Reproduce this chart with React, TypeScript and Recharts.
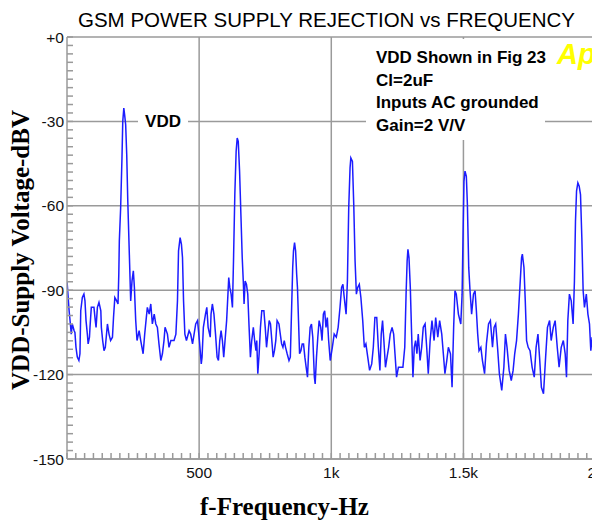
import React from "react";
import { LineChart, Line, XAxis, YAxis, CartesianGrid } from "recharts";

// trace: frequency (Hz) and level (dBV)
const freqHz = [
  0, 8, 14, 16, 20, 27, 30, 34, 39, 45, 49, 52, 58, 64, 68, 72, 77, 80, 85, 87,
  92, 102, 107, 110, 115, 121, 128, 130, 135, 140, 145, 153, 159, 165, 172, 176, 181, 188, 193, 196,
  198, 203, 208, 211, 215, 218, 222, 226, 230, 237, 241, 246, 251, 255, 260, 265, 273, 279, 288, 294,
  299, 304, 311, 317, 323, 330, 336, 342, 348, 355, 361, 367, 371, 380, 386, 393, 405, 412, 418, 422,
  428, 433, 437, 441, 446, 452, 462, 468, 475, 487, 494,
  501, 508, 511, 516, 524, 529, 534, 542, 545, 550, 556, 562, 568, 573, 578, 583, 588, 593, 598, 604,
  609, 612, 616, 621, 626, 630, 635, 640, 644, 648, 653, 658, 663, 667, 670, 674, 679, 684, 689, 694,
  699, 705, 710, 715, 718, 722, 727, 732, 737, 745, 750, 755, 760, 765, 770, 775, 780, 785, 790, 795,
  802, 807, 812, 817, 822, 827, 833, 840, 845, 850, 854, 857, 861, 865, 869, 872, 876, 880, 885, 890,
  895, 900, 905, 910, 915, 920, 925, 930, 936, 939, 944, 949, 954, 960, 965, 970, 975, 980, 985, 990,
  996, 1004, 1011, 1019, 1026, 1033, 1039, 1044, 1049, 1056, 1061, 1066, 1071, 1074, 1080, 1085, 1090, 1095, 1100, 1106,
  1112, 1119, 1125, 1131, 1138, 1145, 1153, 1159, 1165, 1172, 1178, 1184, 1189, 1194, 1199, 1205, 1211, 1217, 1223, 1230,
  1236, 1241, 1247, 1254, 1263, 1271, 1278, 1283, 1287, 1290, 1294, 1299, 1304, 1309, 1314, 1319, 1324, 1329, 1336, 1342,
  1348, 1355, 1361, 1367, 1374, 1381, 1389, 1395, 1403, 1410, 1418, 1424, 1430, 1437, 1443, 1451, 1457, 1463, 1468, 1473,
  1481, 1490,
  1495, 1499, 1502, 1506, 1511, 1515, 1520, 1525, 1531, 1538, 1544, 1549, 1554, 1559, 1566, 1572, 1580, 1587, 1595, 1602,
  1610, 1616, 1622, 1629, 1636, 1645, 1653, 1659, 1665, 1673, 1681, 1688, 1694, 1701, 1708, 1715, 1720, 1723, 1729, 1734,
  1739, 1745, 1752, 1760, 1768, 1775, 1782, 1788, 1795, 1803, 1811, 1818, 1826, 1832, 1840, 1847, 1855, 1862, 1870, 1878,
  1885, 1890, 1895, 1901, 1908, 1915, 1920, 1924, 1928, 1933, 1938, 1943, 1948, 1953, 1958, 1965, 1971, 1977, 1982, 1987,
];

const levelDbv = [
  -86.7, -97.3, -103.2, -105.6, -102.0, -104.4, -105.0, -110.3, -113.8, -115.0, -112.6, -97.3, -92.6, -91.4, -93.8, -100.8, -105.6, -109.1, -106.7, -103.2,
  -96.1, -96.1, -100.8, -103.2, -96.1, -94.3, -97.3, -103.2, -107.9, -111.5, -110.3, -102.0, -105.6, -107.9, -106.7, -99.7, -92.6, -93.8, -94.9, -84.3,
  -72.5, -60.7, -43.0, -30.0, -25.3, -27.6, -31.2, -41.8, -58.3, -80.8, -93.8, -86.7, -83.1, -89.0, -100.8, -107.9, -104.4, -107.9, -112.6, -105.6,
  -100.8, -96.1, -98.5, -94.9, -102.0, -98.5, -102.0, -103.2, -109.1, -115.0, -112.6, -107.9, -103.2, -105.6, -110.3, -107.9, -107.9, -105.6, -93.8, -76.0,
  -71.3, -73.7, -78.4, -93.8, -105.6, -107.9, -104.4, -105.6, -109.1, -102.0, -100.8,
  -107.9, -116.2, -113.8, -103.2, -98.5, -96.1, -103.2, -106.7, -98.5, -94.9, -98.5, -105.6, -113.8, -115.0, -107.9, -104.4, -107.9, -113.8, -107.9, -100.8,
  -91.4, -85.5, -89.0, -91.4, -96.1, -79.6, -56.0, -40.6, -35.9, -37.1, -47.7, -63.1, -78.4, -86.7, -94.9, -86.7, -87.9, -91.4, -103.2, -113.8,
  -107.9, -103.2, -107.9, -111.5, -107.9, -119.7, -112.6, -103.2, -97.3, -97.3, -103.2, -110.3, -105.6, -100.8, -102.0, -107.9, -113.8, -111.5, -107.9, -100.8,
  -102.0, -105.6, -109.1, -110.3, -107.9, -110.3, -112.6, -115.0, -113.8, -96.1, -81.9, -76.0, -73.1, -76.0, -84.3, -89.0, -100.8, -112.6, -111.5, -109.1,
  -109.1, -113.8, -117.4, -120.9, -110.3, -103.2, -102.0, -106.7, -120.9, -123.3, -113.8, -106.7, -100.8, -103.2, -107.9, -98.5, -97.3, -103.2, -99.7, -107.9,
  -115.0, -110.3, -105.6, -106.7, -103.2, -96.1, -89.0, -87.9, -92.6, -98.5, -86.7, -60.7, -46.5, -43.0, -44.2, -59.5, -79.6, -91.4, -89.0, -87.9,
  -92.6, -100.8, -110.3, -109.1, -113.8, -118.5, -116.2, -110.3, -99.7, -99.7, -110.3, -118.5, -105.6, -100.8, -107.9, -117.4, -113.8, -110.3, -105.6, -103.2,
  -105.6, -112.6, -120.9, -117.4, -117.4, -117.4, -110.3, -91.4, -79.6, -75.5, -78.4, -89.0, -105.6, -120.9, -110.3, -107.9, -112.6, -105.6, -115.0, -110.3,
  -103.2, -102.0, -110.3, -119.7, -107.9, -100.8, -107.9, -99.7, -106.7, -100.8, -105.6, -112.6, -119.7, -115.0, -110.3, -112.6, -124.5, -103.2, -90.2, -91.4,
  -98.5, -102.0,
  -91.4, -67.8, -51.3, -47.7, -49.5, -59.5, -81.9, -90.2, -98.5, -91.4, -90.2, -97.3, -105.6, -111.5, -110.3, -115.0, -119.7, -109.1, -102.0, -100.8,
  -110.3, -103.2, -102.0, -110.3, -119.7, -125.6, -117.4, -105.6, -110.3, -118.5, -122.1, -118.5, -112.6, -107.9, -98.5, -86.7, -78.4, -77.2, -81.9, -93.8,
  -107.9, -110.3, -111.5, -117.4, -120.9, -110.3, -105.6, -113.8, -124.5, -126.8, -113.8, -103.2, -100.8, -107.9, -103.2, -100.8, -110.3, -117.4, -110.3, -107.9,
  -112.6, -120.9, -100.8, -91.4, -93.8, -102.0, -86.7, -65.5, -54.8, -51.8, -53.0, -56.0, -71.3, -90.2, -96.1, -91.4, -98.5, -102.0, -111.5, -106.7,
];

const xTicks = [500, 1000, 1500, 2000];
const xTickLabels = ["500", "1k", "1.5k", "2k"];
const yTicks = [0, -30, -60, -90, -120, -150];
const yTickLabels = ["+0", "-30", "-60", "-90", "-120", "-150"];
// minor tick marks: 15 per 500 Hz, 10 per 30 dB (majors are part of these)
const xMinorTicks = Array.from({ length: 64 }, (_, i) => (i * 100) / 3);
const yMinorTicks = Array.from({ length: 51 }, (_, i) => -150 + i * 3);

const notes = ["VDD Shown in Fig 23", "Cl=2uF", "Inputs AC grounded", "Gain=2 V/V"];

const data = freqHz.map((f, i) => ({ f, v: levelDbv[i] }));

const GRID = "#9a9a9a";
const SANS = "'Liberation Sans', Arial, sans-serif";
const SERIF = "'Liberation Serif', 'Times New Roman', serif";
const TICK_FONT = 15.5;

// inward minor tick + label on the majors
const XTick = ({ x, y, payload }: any) => {
  const i = xTicks.findIndex((t) => Math.abs(t - payload.value) < 0.01);
  return (
    <g>
      <line x1={x} x2={x} y1={y - 8} y2={y - 14} stroke={GRID} strokeWidth={1.5} />
      {i >= 0 && (
        <text x={x} y={y} dy="0.71em" textAnchor="middle" fontFamily={SANS} fontSize={TICK_FONT} fill="#111">
          {xTickLabels[i]}
        </text>
      )}
    </g>
  );
};

const YTick = ({ x, y, payload }: any) => {
  const i = yTicks.indexOf(payload.value);
  return (
    <g>
      <line x1={x + 3} x2={x + 9} y1={y} y2={y} stroke={GRID} strokeWidth={1.5} />
      {i >= 0 && (
        <text x={x} y={y} dy="0.355em" textAnchor="end" fontFamily={SANS} fontSize={TICK_FONT} fill="#111">
          {yTickLabels[i]}
        </text>
      )}
    </g>
  );
};

export default function App() {
  return (
    <div
      style={{
        position: "fixed",
        left: 0,
        top: 0,
        width: 592,
        height: 523,
        overflow: "hidden",
        background: "#fff",
      }}
    >
      <LineChart
        width={640}
        height={523}
        data={data}
        margin={{ top: 37, right: 18, bottom: 0, left: 0 }}
      >
        <CartesianGrid
          stroke={GRID}
          strokeWidth={1.5}
          verticalValues={xTicks}
          horizontalValues={yTicks}
        />
        <XAxis
          dataKey="f"
          type="number"
          domain={[0, 2100]}
          ticks={xMinorTicks}
          interval={0}
          height={64}
          tickLine={false}
          tickSize={0}
          tickMargin={8}
          axisLine={{ stroke: GRID, strokeWidth: 1.5 }}
          tick={<XTick />}
          allowDataOverflow
        />
        <YAxis
          type="number"
          domain={[-150, 0]}
          ticks={yMinorTicks}
          interval={0}
          width={67}
          tickLine={false}
          tickSize={0}
          tickMargin={3}
          axisLine={{ stroke: GRID, strokeWidth: 1.5 }}
          tick={<YTick />}
          allowDataOverflow
        />
        <Line
          type="linear"
          dataKey="v"
          stroke="#1c1cff"
          strokeWidth={1.5}
          dot={false}
          activeDot={false}
          isAnimationActive={false}
        />
      </LineChart>

      <svg
        width={592}
        height={523}
        style={{ position: "absolute", left: 0, top: 0, pointerEvents: "none" }}
      >
        <text x={326.5} y={27} textAnchor="middle" fontFamily={SANS} fontSize={20.5} fill="#000">
          GSM POWER SUPPLY REJECTION vs FREQUENCY
        </text>
        <text
          transform="translate(28.5, 250) rotate(-90)"
          textAnchor="middle"
          fontFamily={SERIF}
          fontWeight="bold"
          fontSize={25}
          fill="#000"
        >
          VDD-Supply Voltage-dBV
        </text>
        <text x={284.5} y={515} textAnchor="middle" fontFamily={SERIF} fontWeight="bold" fontSize={25} fill="#000">
          f-Frequency-Hz
        </text>

        <rect x={138} y={112} width={50} height={19} fill="#fff" />
        <text x={163} y={127} textAnchor="middle" fontFamily={SANS} fontWeight="bold" fontSize={17} fill="#000">
          VDD
        </text>

        <rect x={366} y={39} width={179} height={101} fill="#fff" />
        {notes.map((t, i) => (
          <text key={t} x={376} y={63 + i * 22.7} fontFamily={SANS} fontWeight="bold" fontSize={17} fill="#000">
            {t}
          </text>
        ))}
        <text x={557} y={64} fontFamily={SANS} fontWeight="bold" fontStyle="italic" fontSize={29} fill="#ffff00">
          Ap
        </text>
      </svg>
    </div>
  );
}
